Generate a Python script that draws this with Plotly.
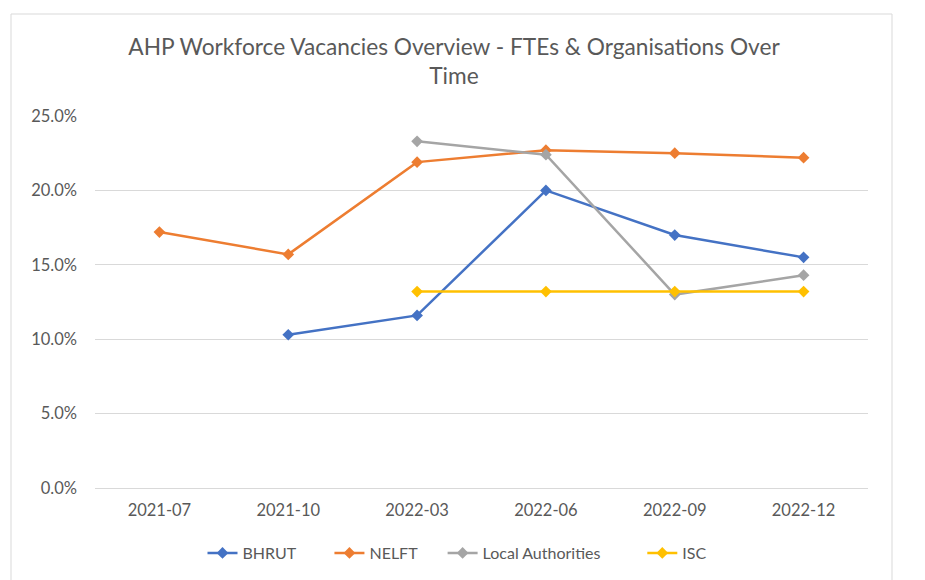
import plotly.graph_objects as go

categories = ["2021-07", "2021-10", "2022-03", "2022-06", "2022-09", "2022-12"]
bhrut = [None, 0.103, 0.116, 0.200, 0.170, 0.155]
nelft = [0.172, 0.157, 0.219, 0.227, 0.225, 0.222]
local_auth = [None, None, 0.233, 0.224, 0.130, 0.143]
isc = [None, None, 0.132, 0.132, 0.132, 0.132]

series = [
    ("BHRUT", bhrut, "#4472C4"),
    ("NELFT", nelft, "#ED7D31"),
    ("Local Authorities", local_auth, "#A5A5A5"),
    ("ISC", isc, "#FFC000"),
]
legend_pad = [7, 5, 9, 0]  # non-breaking spaces after each legend label

fig = go.Figure()
for (name, vals, color), pad in zip(series, legend_pad):
    fig.add_trace(go.Scatter(
        x=list(range(len(categories))), y=vals, name=name + "\u00a0" * pad,
        mode="lines+markers",
        line=dict(color=color, width=2.5),
        marker=dict(symbol="diamond", size=9, color=color),
    ))

OFF = 7  # page offset of the rendered figure
W, H = 925, 580
L, R, T, B = 94 - OFF, 867 - OFF, 115 - OFF, 487 - OFF
pw, ph = R - L, B - T

def px(x):
    return (x - OFF - L) / pw

def py(y):
    return (B - (y - OFF)) / ph

FONT = "Lato"
fig.update_layout(
    width=W, height=H,
    margin=dict(l=L, r=W - R, t=T, b=H - B),
    paper_bgcolor="white", plot_bgcolor="white",
    font=dict(family=FONT, color="#595959", size=16),
    title=dict(
        text="AHP Workforce Vacancies Overview - FTEs & Organisations Over<br>Time",
        x=px(453), xref="paper", xanchor="center",
        y=1 - (53.5 - OFF) / H, yref="container", yanchor="middle",
        font=dict(family=FONT, size=22.7, color="#595959"),
    ),
    xaxis=dict(
        tickmode="array", tickvals=list(range(len(categories))), ticktext=categories,
        range=[-0.5, len(categories) - 0.5],
        showgrid=False, zeroline=False, showline=False, ticks="",
        ticklabelstandoff=10,
        tickfont=dict(family=FONT, size=16.5, color="#595959"),
    ),
    yaxis=dict(
        range=[0, 0.25], tickvals=[0, 0.05, 0.10, 0.15, 0.20, 0.25],
        tickformat=".1%", showgrid=True, gridcolor="#D9D9D9", gridwidth=1,
        zeroline=True, zerolinecolor="#D9D9D9", zerolinewidth=1,
        showline=False, ticks="", ticklabelstandoff=17,
        tickfont=dict(family=FONT, size=16.5, color="#595959"),
    ),
    showlegend=True,
    legend=dict(
        orientation="h", x=px(456), xanchor="center", y=py(552), yanchor="middle",
        font=dict(family=FONT, size=16, color="#595959"),
        bgcolor="rgba(0,0,0,0)",
    ),
    shapes=[dict(
        type="rect", xref="paper", yref="paper",
        x0=px(10), x1=px(891), y0=py(600), y1=py(13),
        line=dict(color="#D9D9D9", width=1), fillcolor="rgba(0,0,0,0)", layer="below",
    )],
)

fig.write_html("out.html")
